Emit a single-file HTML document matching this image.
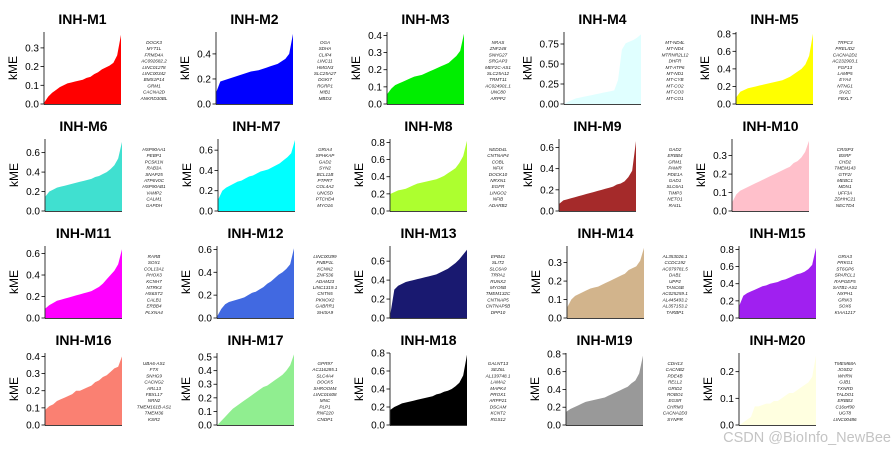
<!DOCTYPE html>
<html><head><meta charset="utf-8"><style>
body{margin:0;background:#fff}
svg{display:block;font-family:"Liberation Sans","DejaVu Sans",sans-serif}
</style></head><body>
<svg id="chart" width="894" height="452" viewBox="0 0 894 452" xmlns="http://www.w3.org/2000/svg"></svg>
<script>
const moduleNames = ["INH-M1","INH-M2","INH-M3","INH-M4","INH-M5","INH-M6","INH-M7","INH-M8","INH-M9","INH-M10","INH-M11","INH-M12","INH-M13","INH-M14","INH-M15","INH-M16","INH-M17","INH-M18","INH-M19","INH-M20"];
const moduleColors = ["#ff0000","#0000ff","#00ee00","#e0ffff","#ffff00","#40e0d0","#00ffff","#adff2f","#a52a2a","#ffc0cb","#ff00ff","#4169e1","#191970","#d2b48c","#a020f0","#fa8072","#90ee90","#000000","#999999","#ffffe0"];
const yLimits = [0.385,0.575,0.42,0.9,0.82,0.74,0.71,0.84,0.68,0.39,0.67,0.63,0.76,0.39,0.84,0.42,0.53,0.8,0.81,0.27];
const yTicks = [[0,0.1,0.2,0.3],[0,0.2,0.4],[0,0.1,0.2,0.3,0.4],[0,0.25,0.5,0.75],[0,0.2,0.4,0.6,0.8],
[0,0.2,0.4,0.6],[0,0.2,0.4,0.6],[0,0.2,0.4,0.6,0.8],[0,0.2,0.4,0.6],[0,0.1,0.2,0.3],
[0,0.2,0.4,0.6],[0,0.2,0.4,0.6],[0,0.2,0.4,0.6],[0,0.1,0.2,0.3],[0,0.2,0.4,0.6,0.8],
[0,0.1,0.2,0.3,0.4],[0,0.1,0.2,0.3,0.4,0.5],[0,0.2,0.4,0.6,0.8],[0,0.2,0.4,0.6,0.8],[0,0.1,0.2]];
const tickLabels = [["0.0","0.1","0.2","0.3"],["0.0","0.2","0.4"],["0.0","0.1","0.2","0.3","0.4"],["0.00","0.25","0.50","0.75"],["0.0","0.2","0.4","0.6","0.8"],
["0.0","0.2","0.4","0.6"],["0.0","0.2","0.4","0.6"],["0.0","0.2","0.4","0.6","0.8"],["0.0","0.2","0.4","0.6"],["0.0","0.1","0.2","0.3"],
["0.0","0.2","0.4","0.6"],["0.0","0.2","0.4","0.6"],["0.0","0.2","0.4","0.6"],["0.0","0.1","0.2","0.3"],["0.0","0.2","0.4","0.6","0.8"],
["0.0","0.1","0.2","0.3","0.4"],["0.0","0.1","0.2","0.3","0.4","0.5"],["0.0","0.2","0.4","0.6","0.8"],["0.0","0.2","0.4","0.6","0.8"],["0.0","0.1","0.2"]];
const kmeM1 = [0.01,0.04,0.06,0.075,0.09,0.10,0.11,0.115,0.12,0.125,0.13,0.14,0.145,0.16,0.17,0.185,0.195,0.205,0.22,0.26,0.37];
const kmeM2 = [0.1,0.18,0.19,0.2,0.21,0.22,0.23,0.24,0.25,0.26,0.265,0.27,0.28,0.29,0.3,0.31,0.32,0.34,0.36,0.4,0.56];
const kmeM3 = [0.06,0.09,0.11,0.12,0.13,0.14,0.15,0.16,0.165,0.17,0.18,0.19,0.2,0.21,0.22,0.23,0.24,0.26,0.28,0.31,0.41];
const kmeM4 = [0.0,0.03,0.05,0.07,0.08,0.09,0.10,0.11,0.12,0.13,0.14,0.15,0.16,0.17,0.3,0.68,0.76,0.78,0.8,0.83,0.87];
const kmeM5 = [0.08,0.14,0.16,0.18,0.19,0.2,0.21,0.22,0.23,0.24,0.25,0.26,0.27,0.29,0.31,0.34,0.37,0.4,0.45,0.55,0.8];
const kmeM6 = [0.15,0.2,0.22,0.24,0.25,0.26,0.27,0.28,0.29,0.3,0.31,0.32,0.33,0.35,0.36,0.38,0.4,0.43,0.47,0.54,0.71];
const kmeM7 = [0.12,0.2,0.23,0.25,0.27,0.29,0.3,0.32,0.34,0.35,0.37,0.39,0.4,0.41,0.43,0.45,0.47,0.5,0.53,0.57,0.7];
const kmeM8 = [0.2,0.22,0.24,0.25,0.26,0.28,0.3,0.32,0.33,0.34,0.35,0.36,0.37,0.39,0.41,0.44,0.47,0.5,0.56,0.64,0.82];
const kmeM9 = [0.07,0.1,0.11,0.12,0.13,0.14,0.15,0.16,0.17,0.18,0.19,0.2,0.21,0.22,0.23,0.25,0.26,0.28,0.32,0.38,0.66];
const kmeM10 = [0.05,0.09,0.11,0.12,0.13,0.14,0.15,0.16,0.17,0.18,0.19,0.2,0.21,0.22,0.23,0.24,0.26,0.27,0.29,0.32,0.38];
const kmeM11 = [0.09,0.12,0.14,0.16,0.17,0.18,0.19,0.2,0.21,0.22,0.23,0.24,0.25,0.27,0.29,0.32,0.36,0.4,0.44,0.5,0.64];
const kmeM12 = [0.02,0.08,0.12,0.14,0.15,0.16,0.17,0.18,0.2,0.22,0.23,0.25,0.27,0.3,0.32,0.35,0.38,0.4,0.43,0.47,0.61];
const kmeM13 = [0.05,0.3,0.34,0.36,0.38,0.39,0.4,0.41,0.42,0.43,0.44,0.45,0.46,0.48,0.5,0.52,0.55,0.58,0.62,0.67,0.72];
const kmeM14 = [0.06,0.1,0.12,0.13,0.14,0.15,0.16,0.165,0.17,0.18,0.19,0.2,0.21,0.22,0.23,0.24,0.26,0.27,0.28,0.31,0.38];
const kmeM15 = [0.15,0.26,0.29,0.31,0.33,0.35,0.37,0.38,0.4,0.41,0.42,0.44,0.45,0.47,0.49,0.51,0.52,0.54,0.57,0.62,0.82];
const kmeM16 = [0.09,0.11,0.12,0.14,0.15,0.16,0.17,0.18,0.2,0.2,0.21,0.22,0.23,0.25,0.26,0.28,0.29,0.31,0.33,0.34,0.4];
const kmeM17 = [0.0,0.03,0.06,0.09,0.12,0.14,0.16,0.18,0.2,0.22,0.24,0.26,0.28,0.29,0.31,0.33,0.35,0.37,0.4,0.44,0.52];
const kmeM18 = [0.17,0.2,0.22,0.24,0.25,0.26,0.27,0.28,0.29,0.3,0.31,0.32,0.34,0.35,0.37,0.38,0.4,0.43,0.47,0.55,0.78];
const kmeM19 = [0.15,0.18,0.2,0.22,0.24,0.26,0.27,0.28,0.29,0.3,0.31,0.33,0.35,0.37,0.39,0.41,0.43,0.47,0.5,0.58,0.78];
const kmeM20 = [0.0,0.01,0.02,0.03,0.07,0.07,0.075,0.08,0.08,0.09,0.09,0.1,0.11,0.12,0.12,0.13,0.14,0.15,0.16,0.18,0.26];
const kmeSeries = [kmeM1,kmeM2,kmeM3,kmeM4,kmeM5,kmeM6,kmeM7,kmeM8,kmeM9,kmeM10,kmeM11,kmeM12,kmeM13,kmeM14,kmeM15,kmeM16,kmeM17,kmeM18,kmeM19,kmeM20];
const hubGenes = [
["DOCK3","MYT1L","FRMD4A","AC092682.2","LINC01278","LINC00342","BMS1P14","GRM1","CACNA2D","ANKRD30BL"],
["OGA","SDHA","CLIP4","LINC11","HMGN3","SLC25A27","DGKI7","RGRP1","MIB1","MBD3"],
["NRAS","ZNF248","SNHG27","SRGAP3","MEF2C-AS1","SLC25A12","TRMT11","AC024901.1","UNC80","ARPP2"],
["MT-ND4L","MT-ND4","MTRNR2L12","DHFR","MT-ATP6","MT-ND1","MT-CYB","MT-CO2","MT-CO3","MT-CO1"],
["TRPC3","PRELID2","CACNA2D1","AC232903.1","FGF13","LAMP5","EYA4","NTNG1","SV2C","FBXL7"],
["HSP90AA1","PEBP1","PCSK1N","RAB3A","SNAP25","ATP6V0C","HSP90AB1","VAMP2","CALM1","GAPDH"],
["GRIA4","SPHKAP","GAD2","SYN2","BCL11B","PTPRT","COL4A2","UNC5D","PTCHD4","MYO16"],
["NEDD4L","CNTNAP4","COBL","NFIX","DOCK10","NRXN1","EGFR","LINGO2","NFIB","ADARB2"],
["GAD2","ERBB4","GRM1","PAWR","PDE1A","GAD1","SLC6A1","TIMP3","NETO1","RAI1L"],
["CRISP3","BSRF","CHD2","TMEM143","GTF2I","MEBC1","MDN1","UFF3A","ZDHHC21","NECTD4"],
["RARB","SOX1","COL13A1","PHOX3","KCNH7","NTRK3","HS6ST2","CALB1","ERBB4","PLXNA4"],
["LINC00399","FNBP1L","KCNN2","ZNF536","ADAM23","LINC1319.1","CNTN5","PKNOX2","GABRR1","SHISA9"],
["EPB41","SLIT2","SLC6A9","TRPA1","RUNX2","MYO5B","TMEM132C","CNTNAP5","CNTNAP5B","DPP10"],
["AL353026.1","CCDC192","AC079781.5","DAB1","UPP2","TANC6B","AC025259.1","AL445493.2","AL357153.2","TARBP1"],
["GRIA3","PRKG1","ST6GP6","SPARCL1","RAPGEF5","SATB1-AS1","NXPH1","GRIK3","SOX6","KIAA1217"],
["UBA6-AS1","FTX","SNHG9","CACNG2","ARL13","FBXL17","NRN2","TMEM161B-AS1","TMEM36","KSR2"],
["GPR97","AC116285.1","SLC4A4","DOCK5","SHROOM4","LINC01608","MNC","PLP1","RNF220","CNDP1"],
["GALNT13","SEZ6L","AL139748.1","LAMA2","MAPK4","PROX1","ARPP21","DSCAM","KCNT2","RGS12"],
["CDH13","CACNB2","PDE4B","RELL2","GRID2","ROBO1","EGSR","CHRM3","CACNA2D3","SYNPR"],
["TMEM68A","JOSD2","WHRN","GJB1","TXNRD","TALDO1","ERBB3","C16orf90","UGT8","LINC00486"]
];
const rowBottoms = [104,211,318,425];
const axisXs = [[44,216,387,564,736],[45,218,390,559,732],[45,217,390,567,739],[45,217,390,566,739]];
const geneXs = [154,325,498,675,845];

const svg = document.getElementById('chart');
const NS = 'http://www.w3.org/2000/svg';
function mk(tag, attrs, parent){const e=document.createElementNS(NS,tag);for(const k in attrs)e.setAttribute(k,attrs[k]);(parent||svg).appendChild(e);return e;}
const PH = 72, PW = 77;

for (let i = 0; i < moduleNames.length; i++) {
  const r = Math.floor(i/5), c = i%5;
  const x0 = axisXs[r][c], yb = rowBottoms[r], yt = yb - PH;
  const ymax = yLimits[i];
  const ys = v => yb - v / ymax * PH;
  const vals = kmeSeries[i];
  const xs = k => x0 + 0.5 + k / (vals.length - 1) * (PW - 0.5);
  const g = mk('g', {});
  
  

  const t = mk('text', {x: x0 + PW/2, y: yt - 8, 'text-anchor':'middle', 'font-size':'14', 'font-weight':'bold', fill:'#000'}, g);
  t.textContent = moduleNames[i];
  
  

  let d = 'M' + xs(0) + ',' + yb;
  vals.forEach((v,k) => { d += ' L' + xs(k).toFixed(2) + ',' + ys(v).toFixed(2); });
  d += ' L' + xs(vals.length-1) + ',' + yb + ' Z';
  const area = mk('path', {d: d, fill: moduleColors[i], stroke: 'none'}, g);
  
  

  const ax = mk('line', {x1:x0, x2:x0, y1:yt, y2:yb+0.5, stroke:'#000', 'stroke-width':'0.8'}, g);
  
  
  const bx = mk('line', {x1:x0, x2:x0+PW, y1:yb+0.5, y2:yb+0.5, stroke:'#000', 'stroke-width':'0.8'}, g);
  
  

  let maxW = 0;
  yTicks[i].forEach((tv, k) => {
    const y = ys(tv);
    const tk = mk('line', {x1:x0-3.5, x2:x0, y1:y, y2:y, stroke:'#000', 'stroke-width':'0.8'}, g);
    
    
    const tl = mk('text', {x:x0-5, y:y+3.5, 'text-anchor':'end', 'font-size':'10', fill:'#000'}, g);
    tl.textContent = tickLabels[i][k];
    
    
    maxW = Math.max(maxW, tl.getComputedTextLength());
  });
  const lx = x0 - 5 - maxW - 8;
  const yl = mk('text', {x:lx, y:(yt+yb)/2, 'text-anchor':'middle', 'font-size':'12', fill:'#000', transform:'rotate(-90 '+lx+' '+((yt+yb)/2)+')'}, g);
  yl.textContent = 'kME';
  
  

  hubGenes[i].forEach((gn, k) => {
    const gt = mk('text', {x:geneXs[c], y:yt + 12 + k*6.2, 'text-anchor':'middle', 'font-size':'4.6', 'font-style':'italic', fill:'#222'}, g);
    gt.textContent = gn;
    
    
  });
}
const wm = mk('text', {x:891, y:442, 'text-anchor':'end', 'font-size':'14.5', fill:'#c4c4c4'});
wm.textContent = 'CSDN @BioInfo_NewBee';


</script>
</body></html>
